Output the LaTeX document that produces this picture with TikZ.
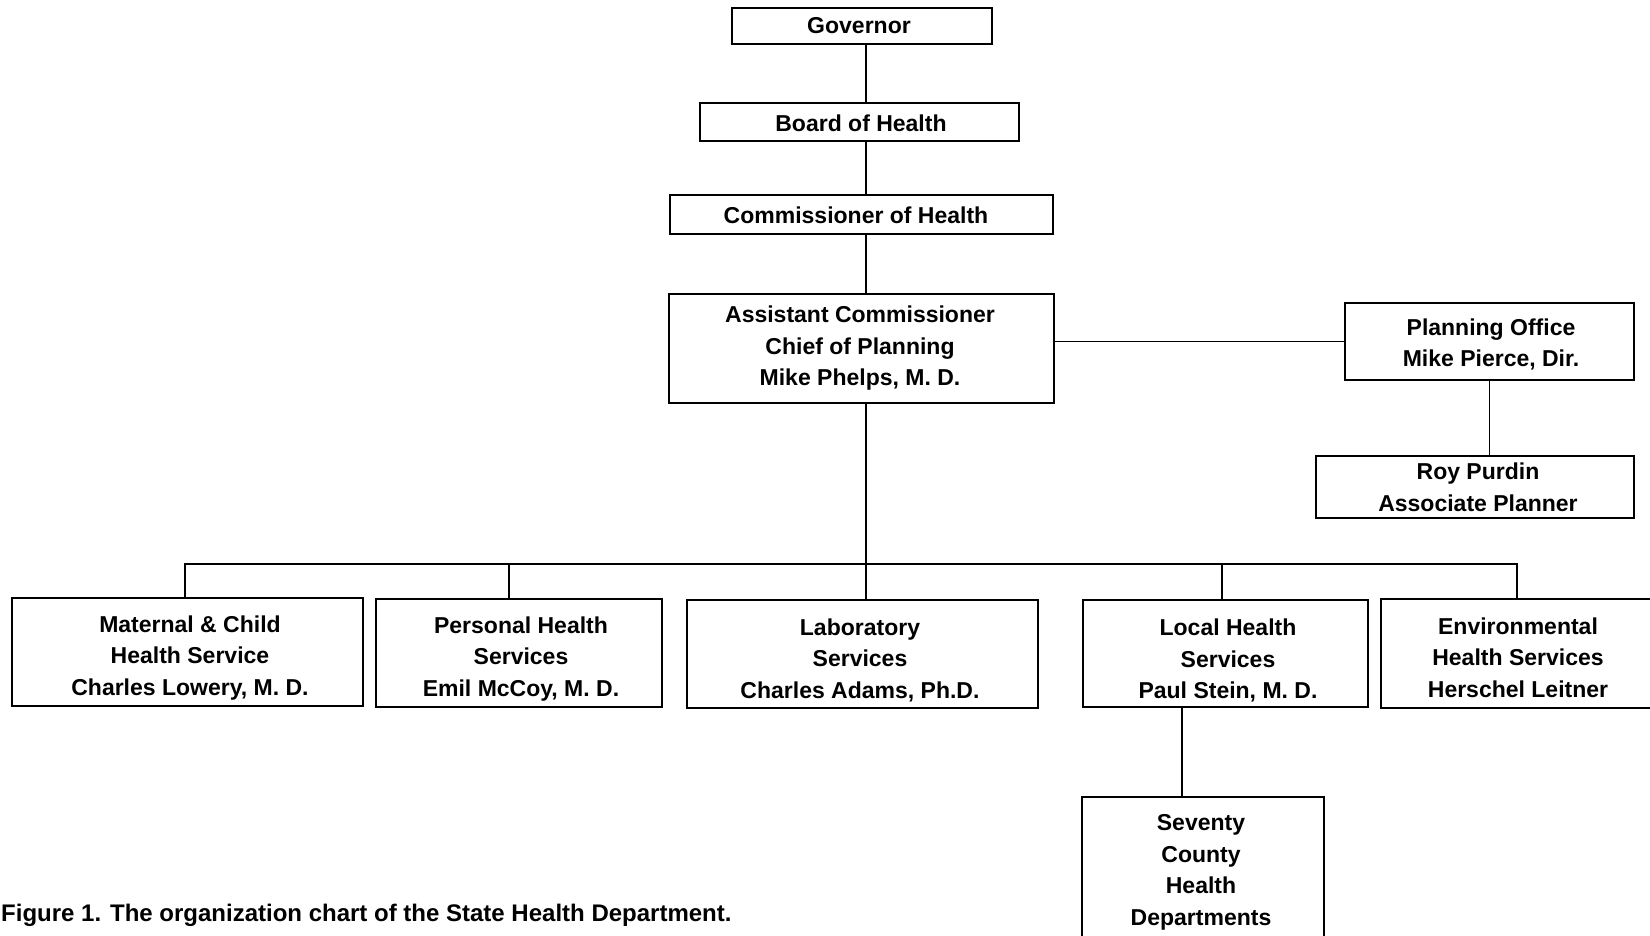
\documentclass[tikz,border=0pt]{standalone}
\usepackage{fontspec}
\setmainfont{Liberation Sans}
\begin{document}
\begin{tikzpicture}[x=1pt,y=-1pt,
  frame/.style={draw, line width=1.6pt, inner sep=0pt},
  txt/.style={inner sep=0pt, align=center, yshift=-2.5pt,
    font=\bfseries\fontsize{23}{31.5}\selectfont},
  link/.style={line width=1.6pt},
  caption/.style={inner sep=0pt, anchor=west, yshift=-2pt,
    font=\bfseries\fontsize{24}{28}\selectfont}]
\useasboundingbox (0,0) rectangle (1650,936);

% chain of command
\node[frame, minimum width=260pt, minimum height=36pt] (gov) at (862,26) {};
\node[txt] (govT) at (859,23.5) {Governor};
\node[frame, minimum width=319pt, minimum height=38pt] (board) at (859.5,122) {};
\node[txt] (boardT) at (861,121) {Board of Health};
\node[frame, minimum width=383pt, minimum height=39pt] (comm) at (861.5,214.5) {};
\node[txt] (commT) at (856,213) {Commissioner of Health};
\node[frame, minimum width=385pt, minimum height=109pt] (asst) at (861.5,348.5) {};
\node[txt] (asstT) at (860,346)
  {Assistant Commissioner\\Chief of Planning\\Mike Phelps, M. D.};

% planning staff
\node[frame, minimum width=289pt, minimum height=77pt] (plan) at (1489.5,341.5) {};
\node[txt] (planT) at (1491,342) {Planning Office\\Mike Pierce, Dir.};
\node[frame, minimum width=318pt, minimum height=62pt] (roy) at (1475,487) {};
\node[txt] (royT) at (1478,485) {Roy Purdin\\Associate Planner};

% divisions
\node[frame, minimum width=351pt, minimum height=108pt] (mat) at (187.5,652) {};
\node[txt] (matT) at (190,655.5)
  {Maternal \& Child\\Health Service\\Charles Lowery, M. D.};
\node[frame, minimum width=286pt, minimum height=108pt] (pers) at (519,653) {};
\node[txt] (persT) at (521,656.5)
  {Personal Health\\Services\\Emil McCoy, M. D.};
\node[frame, minimum width=351pt, minimum height=108pt] (lab) at (862.5,654) {};
\node[txt] (labT) at (860,657.5)
  {Laboratory\\Services\\Charles Adams, Ph.D.};
\node[frame, minimum width=285pt, minimum height=107pt] (local) at (1225.5,653.5) {};
\node[txt] (localT) at (1228,658)
  {Local Health\\Services\\Paul Stein, M. D.};
\node[frame, minimum width=272pt, minimum height=109pt] (env) at (1517,653.5) {};
\node[txt] (envT) at (1518,655)
  {Environmental\\Health Services\\Herschel Leitner};
\node[frame, minimum width=242pt, minimum height=150pt] (county) at (1203,872) {};
\node[txt] (countyT) at (1201,870)
  {Seventy\\County\\Health\\Departments};

% connector positions
\coordinate (trunk) at (866,0);
\coordinate (busL) at (185,564);
\coordinate (busR) at (1517,564);
\coordinate (pstub) at (509,0);
\coordinate (lstub) at (1222,0);
\coordinate (cstub) at (1182,0);

\draw[link] (gov.south -| trunk) -- (board.north -| trunk);
\draw[link] (board.south -| trunk) -- (comm.north -| trunk);
\draw[link] (comm.south -| trunk) -- (asst.north -| trunk);
\draw[link] (asst.east |- plan.west) -- (plan.west);
\draw[link] (plan.south) -- (roy.north -| plan.south);
\draw[link] (asst.south -| trunk) -- (lab.north -| trunk);
\draw[link] (mat.north -| busL) -- (busL) -- (busR) -- (env.north -| busR);
\draw[link] (busL -| pstub) -- (pers.north -| pstub);
\draw[link] (busL -| lstub) -- (local.north -| lstub);
\draw[link] (local.south -| cstub) -- (county.north -| cstub);

\node[caption] (cap) at (1,913) {Figure 1. The organization chart of the State Health Department.};
\end{tikzpicture}
\end{document}
